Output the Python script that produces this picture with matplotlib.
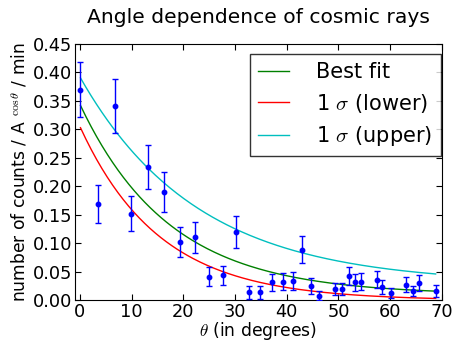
import numpy as np
import matplotlib
matplotlib.use("Agg")
from matplotlib import pyplot as plt

# angle (degrees), counts per min normalised, error
theta = [0.1, 3.4, 6.7, 9.9, 13.1, 16.3, 19.3, 22.2, 25.0, 27.6, 30.2, 32.7,
         34.9, 37.1, 39.2, 41.2, 43.0, 44.7, 46.3, 49.4, 50.6, 52.0, 53.2,
         54.3, 57.5, 58.4, 60.1, 63.0, 64.4, 65.5, 68.8]
counts = [0.370, 0.169, 0.341, 0.152, 0.234, 0.190, 0.103, 0.111, 0.042,
          0.044, 0.120, 0.014, 0.014, 0.032, 0.033, 0.034, 0.089, 0.026,
          0.008, 0.020, 0.020, 0.043, 0.032, 0.033, 0.036, 0.024, 0.013,
          0.028, 0.016, 0.031, 0.017]
errors = [0.049, 0.033, 0.047, 0.031, 0.039, 0.035, 0.026, 0.027, 0.016,
          0.017, 0.028, 0.011, 0.011, 0.015, 0.015, 0.016, 0.024, 0.014,
          0.008, 0.011, 0.011, 0.016, 0.015, 0.015, 0.015, 0.012, 0.009,
          0.013, 0.009, 0.014, 0.011]

# fit parameters  a*exp(-b*theta)+c
fit_best = (0.334, 0.0576, 0.010)
fit_lower = (0.305, 0.065, 0.0)
fit_upper = (0.363, 0.0441, 0.029)

plt.rcParams['mathtext.fontset'] = 'cm'
plt.rcParams['xtick.direction'] = 'in'
plt.rcParams['ytick.direction'] = 'in'
plt.rcParams['xtick.top'] = True
plt.rcParams['ytick.right'] = True
plt.rcParams['xtick.major.size'] = 4
plt.rcParams['ytick.major.size'] = 4

fig = plt.figure(figsize=(4.56, 3.43), dpi=100)
ax = fig.add_axes([0.164, 0.124, 0.805, 0.748])

def model(p, x):
    return p[0] * np.exp(-p[1] * x) + p[2]

xs = np.linspace(theta[0], theta[-1], 200)
ax.plot(xs, model(fit_best, xs), color='green', lw=1, label='Best fit')
ax.plot(xs, model(fit_lower, xs), color='red', lw=1, label=r'1 $\sigma$ (lower)')
ax.plot(xs, model(fit_upper, xs), color='c', lw=1, label=r'1 $\sigma$ (upper)')
ax.errorbar(theta, counts, yerr=errors, fmt='o', color='blue', ms=3.2,
            mec='blue', capsize=2.5, elinewidth=1, zorder=3)

ax.set_xlim(-1, 70)
ax.set_ylim(0, 0.45)
ax.set_xticks(range(0, 71, 10))
ax.set_yticks(np.arange(0, 0.451, 0.05))
ax.set_yticklabels(['%.2f' % v for v in np.arange(0, 0.451, 0.05)])
ax.tick_params(labelsize=12.8, pad=2)
ax.set_xlabel(r'$\theta$ (in degrees)', fontsize=12.3, labelpad=-1)
ax.set_ylabel(r'number of counts / A $^{\cos\theta}$ / min', fontsize=12.3,
              labelpad=2)
ax.set_title('Angle dependence of cosmic rays', fontsize=14.6, pad=15)

leg = ax.legend(loc='upper right', bbox_to_anchor=(0.997, 0.961),
                borderaxespad=0, fontsize=15, fancybox=False,
                handlelength=1.5, handletextpad=1.3, borderpad=0.4,
                labelspacing=0.45)
leg.get_frame().set_edgecolor('black')
leg.get_frame().set_linewidth(1)

fig.savefig('out.png', dpi=100)
